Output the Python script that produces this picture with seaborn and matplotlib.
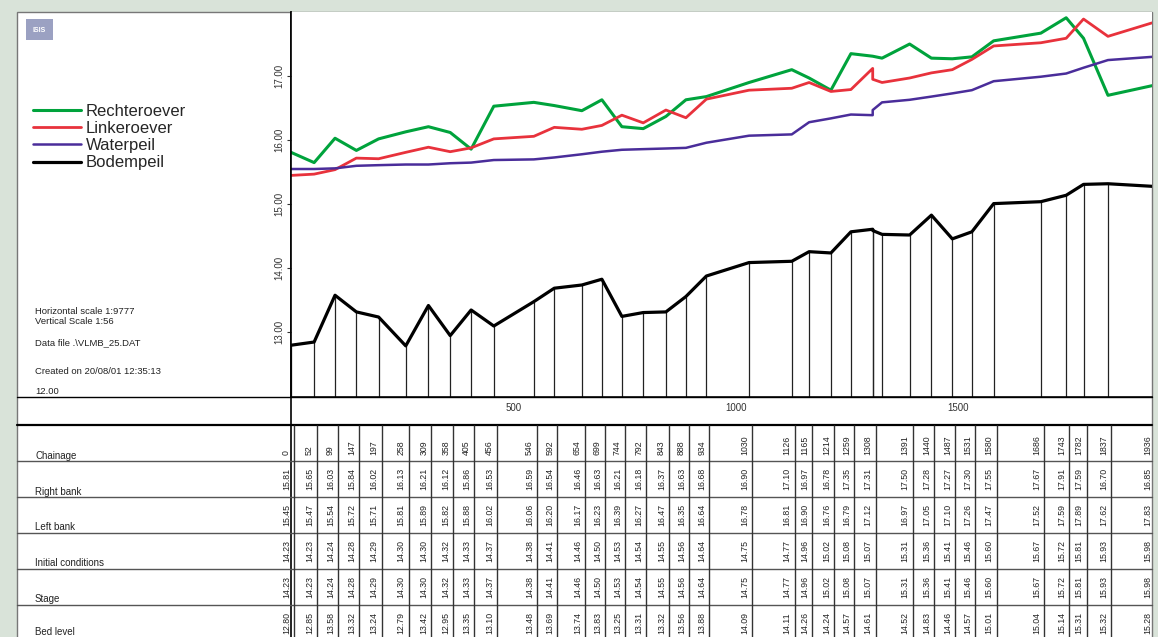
import pandas as pd
import matplotlib.pyplot as plt
import matplotlib.transforms as mtransforms
from matplotlib.patches import Rectangle
import seaborn as sns

# stations in the table (m)
chainage = [0, 52, 99, 147, 197, 258, 309, 358, 405, 456, 546, 592, 654, 699, 744, 792, 843, 888, 934,
            1030, 1126, 1165, 1214, 1259, 1308, 1391, 1440, 1487, 1531, 1580, 1686, 1743, 1782, 1837, 1936]
right_bank = [15.81, 15.65, 16.03, 15.84, 16.02, 16.13, 16.21, 16.12, 15.86, 16.53, 16.59, 16.54, 16.46,
              16.63, 16.21, 16.18, 16.37, 16.63, 16.68, 16.90, 17.10, 16.97, 16.78, 17.35, 17.31, 17.50,
              17.28, 17.27, 17.30, 17.55, 17.67, 17.91, 17.59, 16.70, 16.85]
left_bank = [15.45, 15.47, 15.54, 15.72, 15.71, 15.81, 15.89, 15.82, 15.88, 16.02, 16.06, 16.20, 16.17,
             16.23, 16.39, 16.27, 16.47, 16.35, 16.64, 16.78, 16.81, 16.90, 16.76, 16.79, 17.12, 16.97,
             17.05, 17.10, 17.26, 17.47, 17.52, 17.59, 17.89, 17.62, 17.83]
initial_cond = [14.23, 14.23, 14.24, 14.28, 14.29, 14.30, 14.30, 14.32, 14.33, 14.37, 14.38, 14.41, 14.46,
                14.50, 14.53, 14.54, 14.55, 14.56, 14.64, 14.75, 14.77, 14.96, 15.02, 15.08, 15.07, 15.31,
                15.36, 15.41, 15.46, 15.60, 15.67, 15.72, 15.81, 15.93, 15.98]
stage = [14.23, 14.23, 14.24, 14.28, 14.29, 14.30, 14.30, 14.32, 14.33, 14.37, 14.38, 14.41, 14.46,
         14.50, 14.53, 14.54, 14.55, 14.56, 14.64, 14.75, 14.77, 14.96, 15.02, 15.08, 15.07, 15.31,
         15.36, 15.41, 15.46, 15.60, 15.67, 15.72, 15.81, 15.93, 15.98]
bed_level = [12.80, 12.85, 13.58, 13.32, 13.24, 12.79, 13.42, 12.95, 13.35, 13.10, 13.48, 13.69, 13.74,
             13.83, 13.25, 13.31, 13.32, 13.56, 13.88, 14.09, 14.11, 14.26, 14.24, 14.57, 14.61, 14.52,
             14.83, 14.46, 14.57, 15.01, 15.04, 15.14, 15.31, 15.32, 15.28]

# profile points the plot has but the table skips (second point at 1308, and 1329)
extra_x = [1308, 1329]
extra_right = [17.31, 17.28]
extra_left = [16.95, 16.90]
extra_bed = [14.59, 14.53]

# water level as drawn in the plot
waterpeil = [15.55, 15.55, 15.56, 15.60, 15.61, 15.62, 15.62, 15.64, 15.65, 15.69, 15.70, 15.73, 15.78,
             15.82, 15.85, 15.86, 15.87, 15.88, 15.96, 16.07, 16.09, 16.28, 16.34, 16.40, 16.39, 16.47,
             16.59, 16.63, 16.68, 16.73, 16.78, 16.92, 16.99, 17.04, 17.13, 17.25, 17.30]

row_names = ['Chainage', 'Right bank', 'Left bank', 'Initial conditions', 'Stage', 'Bed level']
yticks = [13, 14, 15, 16, 17]
xticks = [500, 1000, 1500]

info_lines = ['Horizontal scale 1:9777', 'Vertical Scale 1:56', 'Data file .\\VLMB_25.DAT',
              'Created on 20/08/01 12:35:13', '12.00']

# profile arrays incl. the extra points
prof_x = chainage[:25] + extra_x + chainage[25:]
prof_right = right_bank[:25] + extra_right + right_bank[25:]
prof_left = left_bank[:25] + extra_left + left_bank[25:]
prof_bed = bed_level[:25] + extra_bed + bed_level[25:]

sns.set_style('white')
plt.rcParams['font.family'] = ['Liberation Sans', 'DejaVu Sans']
narrow = ['Liberation Sans Narrow', 'Liberation Sans', 'DejaVu Sans']

W, H = 1158, 637
fig = plt.figure(figsize=(W / 100, H / 100), dpi=100, facecolor='#d9e3d9')

# pixel overlay for the frame and the left panel
bg = fig.add_axes([0, 0, 1, 1])
bg.set_xlim(0, W)
bg.set_ylim(H, 0)
bg.axis('off')
bg.add_patch(Rectangle((17, 12), 1135, 640, facecolor='white', edgecolor='#777777', lw=1))
bg.plot([291, 291], [12, H], color='black', lw=1.2)
bg.plot([17, 1152], [396.5, 396.5], color='black', lw=1)
bg.plot([17, 1152], [425, 425], color='black', lw=1.6)
for i in range(1, 6):
    y = 425 + 36 * i
    bg.plot([17, 1152], [y, y], color='#555555', lw=1)
label_base = [459, 495, 530, 566, 602, 635]
for name, y in zip(row_names, label_base):
    bg.text(35, y, name, fontsize=7, va='baseline', ha='left', color='#222222')

# ISIS logo
bg.add_patch(Rectangle((26, 19), 27, 21, facecolor='#9ba1c2', edgecolor='none'))
bg.text(39.5, 30, 'ISIS', color='white', fontsize=5, fontweight='bold', ha='center', va='center')

info_y = [311, 322, 343, 372, 392]
for txt, y in zip(info_lines, info_y):
    bg.text(35, y, txt, fontsize=6.8, va='center', ha='left', color='#222222')

# main profile plot
ax = fig.add_axes([291 / W, 1 - 396.5 / H, 861 / W, 384.5 / H])
ax.set_facecolor('white')
ax.vlines(prof_x, 12, prof_bed, colors='#222222', lw=0.9)

series = [
    ('Rechteroever', prof_right, '#00a33c', 2.2),
    ('Linkeroever', prof_left, '#e8323c', 2.0),
    ('Waterpeil', waterpeil, '#4a2d9a', 1.8),
    ('Bodempeil', prof_bed, 'black', 2.3),
]
for name, vals, col, lw in series:
    df = pd.DataFrame({'chainage': prof_x, 'level': vals})
    sns.lineplot(data=df, x='chainage', y='level', ax=ax, color=col, linewidth=lw,
                 estimator=None, sort=False, label=name)

ax.set_xlim(0, 1936)
ax.set_ylim(12, 18)
ax.set_xlabel('')
ax.set_ylabel('')
ax.set_yticks(yticks)
ax.set_yticklabels([f'{v:.2f}' for v in yticks], rotation=90, va='center')
ax.set_xticks(xticks)
ax.set_xticklabels([str(v) for v in xticks])
ax.tick_params(axis='y', direction='out', length=3, width=0.8, labelsize=7, pad=2,
               left=True, colors='#333333')
ax.tick_params(axis='x', length=0, labelsize=7, pad=5, colors='#333333')
for s in ['top', 'right']:
    ax.spines[s].set_visible(False)
for s in ['left', 'bottom']:
    ax.spines[s].set_color('black')
    ax.spines[s].set_linewidth(1.2)

handles, labels = ax.get_legend_handles_labels()
ax.legend(handles, labels, loc='upper left', bbox_to_anchor=(33 / W, 1 - 104 / H),
          bbox_transform=fig.transFigure, frameon=False, fontsize=12, handlelength=2.9,
          handletextpad=0.25, labelspacing=0.13, borderpad=0, borderaxespad=0)

# table below the plot, in chainage coordinates
tab = fig.add_axes([291 / W, 1 - 641 / H, 861 / W, 216 / H])
tab.set_facecolor('none')
tab.set_xlim(0, 1936)
tab.set_ylim(6, 0)
tab.axis('off')
sep = mtransforms.offset_copy(tab.transData, fig, x=3, y=0, units='dots')
tab.vlines(chainage, 0, 6, colors='#333333', lw=1, transform=sep)
txt_tr = mtransforms.offset_copy(tab.transData, fig, x=0, y=0, units='dots')

rows = [chainage, right_bank, left_bank, initial_cond, stage, bed_level]
for i, vals in enumerate(rows):
    for x, v in zip(chainage, vals):
        if i == 0:
            tab.text(x, 0.84, str(v), rotation=90, ha='right', va='bottom', fontsize=6.3,
                     family=narrow, transform=txt_tr, color='#222222')
        else:
            tab.text(x, i + 0.5, f'{v:.2f}', rotation=90, ha='right', va='center', fontsize=6.3,
                     family=narrow, transform=txt_tr, color='#222222')

fig.savefig('out.png', dpi=100, facecolor=fig.get_facecolor())
